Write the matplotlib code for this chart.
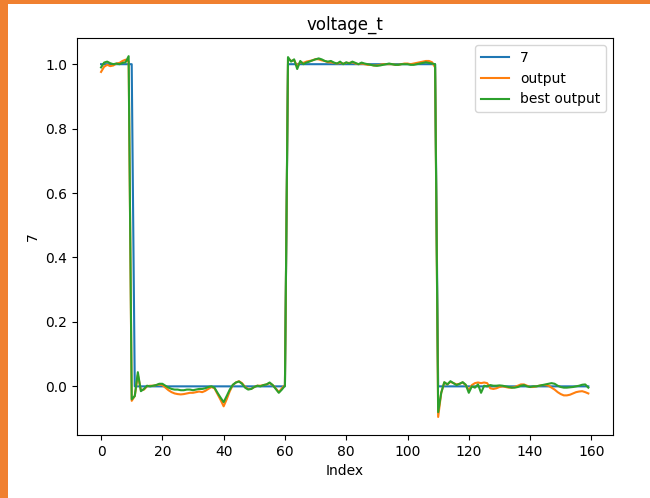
import matplotlib
matplotlib.use("Agg")
import matplotlib.pyplot as plt
from matplotlib.patches import Rectangle

# target signal "7"
target = [
    1, 1, 1, 1, 1, 1, 1, 1, 1, 1,
    1, 0, 0, 0, 0, 0, 0, 0, 0, 0,
    0, 0, 0, 0, 0, 0, 0, 0, 0, 0,
    0, 0, 0, 0, 0, 0, 0, 0, 0, 0,
    0, 0, 0, 0, 0, 0, 0, 0, 0, 0,
    0, 0, 0, 0, 0, 0, 0, 0, 0, 0,
    0, 1, 1, 1, 1, 1, 1, 1, 1, 1,
    1, 1, 1, 1, 1, 1, 1, 1, 1, 1,
    1, 1, 1, 1, 1, 1, 1, 1, 1, 1,
    1, 1, 1, 1, 1, 1, 1, 1, 1, 1,
    1, 1, 1, 1, 1, 1, 1, 1, 1, 1,
    0, 0, 0, 0, 0, 0, 0, 0, 0, 0,
    0, 0, 0, 0, 0, 0, 0, 0, 0, 0,
    0, 0, 0, 0, 0, 0, 0, 0, 0, 0,
    0, 0, 0, 0, 0, 0, 0, 0, 0, 0,
    0, 0, 0, 0, 0, 0, 0, 0, 0, 0,
]

output = [
    0.976, 0.992, 0.998, 0.994, 0.996, 1.002, 1.004, 1.010, 1.014, 1.008,
    -0.045, -0.030, 0.035, -0.012, -0.010, 0.000, 0.002, 0.002, 0.004, 0.006,
    0.004, -0.004, -0.012, -0.018, -0.022, -0.024, -0.025, -0.024, -0.022, -0.020,
    -0.020, -0.018, -0.016, -0.018, -0.014, -0.008, -0.002, -0.006, -0.024, -0.042,
    -0.062, -0.040, -0.015, 0.004, 0.012, 0.016, 0.010, -0.002, -0.008, -0.008,
    -0.002, 0.002, 0.002, 0.004, 0.006, 0.010, 0.004, -0.006, -0.018, -0.006,
    0.004, 1.018, 1.010, 1.012, 0.995, 1.006, 1.004, 1.008, 1.010, 1.012,
    1.016, 1.015, 1.012, 1.010, 1.006, 1.006, 1.004, 1.002, 1.004, 1.002,
    1.004, 1.004, 1.006, 1.002, 1.000, 1.002, 1.000, 0.998, 0.998, 0.996,
    0.996, 0.998, 1.000, 1.000, 1.000, 1.000, 0.998, 0.998, 1.000, 1.002,
    1.002, 1.000, 1.002, 1.004, 1.006, 1.008, 1.010, 1.010, 1.006, 0.990,
    -0.095, -0.020, 0.012, 0.006, 0.014, 0.010, 0.006, 0.008, 0.012, 0.004,
    -0.012, 0.004, 0.010, 0.012, 0.010, 0.012, 0.010, -0.006, -0.008, -0.006,
    -0.002, 0.000, -0.002, -0.004, -0.004, -0.002, 0.002, 0.006, 0.006, 0.002,
    -0.002, -0.002, 0.000, 0.002, 0.004, 0.004, 0.002, -0.004, -0.010, -0.018,
    -0.024, -0.028, -0.028, -0.026, -0.022, -0.018, -0.016, -0.015, -0.018, -0.022,
]

best_output = [
    0.990, 1.005, 1.008, 1.003, 1.000, 1.002, 1.000, 1.004, 1.006, 1.025,
    -0.040, -0.030, 0.044, -0.015, -0.008, 0.002, 0.000, 0.002, 0.004, 0.008,
    0.008, 0.002, -0.004, -0.008, -0.010, -0.010, -0.012, -0.012, -0.010, -0.010,
    -0.012, -0.010, -0.008, -0.008, -0.006, -0.002, 0.000, -0.004, -0.020, -0.035,
    -0.049, -0.030, -0.010, 0.005, 0.012, 0.015, 0.008, -0.004, -0.010, -0.008,
    -0.002, 0.002, 0.000, 0.004, 0.006, 0.012, 0.004, -0.008, -0.020, -0.010,
    0.002, 1.022, 1.008, 1.015, 0.985, 1.010, 1.000, 1.005, 1.008, 1.012,
    1.015, 1.018, 1.015, 1.010, 1.008, 1.010, 1.005, 1.002, 1.008, 1.000,
    1.006, 1.002, 1.008, 1.004, 1.000, 1.005, 1.002, 1.000, 0.998, 0.996,
    0.995, 0.996, 0.998, 1.000, 1.002, 1.000, 0.998, 0.998, 1.000, 1.000,
    1.000, 0.998, 0.998, 1.000, 1.002, 1.004, 1.006, 1.004, 1.002, 1.000,
    -0.080, -0.020, 0.013, 0.006, 0.016, 0.010, 0.004, 0.008, 0.013, 0.005,
    -0.020, 0.000, -0.004, 0.006, -0.020, 0.002, 0.000, 0.004, 0.002, 0.002,
    0.003, 0.002, 0.000, -0.002, -0.004, -0.004, -0.002, 0.002, 0.004, 0.000,
    -0.002, 0.000, 0.000, 0.002, 0.004, 0.006, 0.008, 0.010, 0.008, 0.002,
    -0.002, -0.004, -0.004, -0.003, -0.002, 0.000, 0.002, 0.005, 0.006, -0.004,
]

index = list(range(len(target)))

fig = plt.figure(figsize=(6.5, 4.98), dpi=100)
ax = fig.add_axes([0.118, 0.1265, 0.8246, 0.797])

ax.plot(index, target, label="7")
ax.plot(index, output, label="output")
ax.plot(index, best_output, label="best output")

ax.set_title("voltage_t")
ax.set_xlabel("Index")
ax.set_ylabel("7")
ax.legend(loc="upper right")

# orange frame of the screenshot (left and top edges)
fig.patches.append(Rectangle((0, 0), 8 / 650, 1, transform=fig.transFigure,
                             facecolor="#f08030", edgecolor="none", zorder=10))
fig.patches.append(Rectangle((0, 1 - 4 / 498), 1, 4 / 498, transform=fig.transFigure,
                             facecolor="#f08030", edgecolor="none", zorder=10))

fig.savefig("out.png", dpi=100)
